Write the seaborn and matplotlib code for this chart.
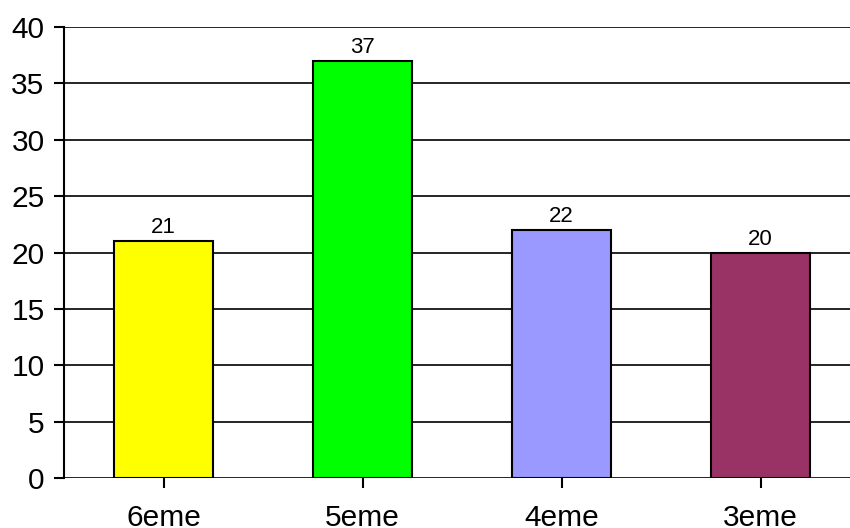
import matplotlib
matplotlib.use("Agg")
import matplotlib.pyplot as plt
import seaborn as sns
import pandas as pd

categories = ["6eme", "5eme", "4eme", "3eme"]
values = [21, 37, 22, 20]
colors = ["#FFFF00", "#00FF00", "#9999FF", "#993366"]
yticks = [0, 5, 10, 15, 20, 25, 30, 35, 40]

sns.set_theme(style="white")
plt.rcParams['font.family'] = ['Liberation Sans', 'DejaVu Sans']

df = pd.DataFrame({"cat": categories, "val": values})

fig = plt.figure(figsize=(8.5, 5.28), dpi=100)
ax = fig.add_axes([64/850, 50/528, 796/850, 451/528])
sns.barplot(data=df, x="cat", y="val", hue="cat", palette=colors, legend=False,
            width=0.5, edgecolor="black", linewidth=1.5, saturation=1, ax=ax, zorder=3)
ax.set_xlim(-0.5, 3.5)
ax.set_ylim(0, 40)
ax.set_yticks(yticks)
ax.set_xlabel("")
ax.set_ylabel("")
for y in yticks:
    ax.axhline(y, color="black", lw=1.2, zorder=1)
for s in ["top", "right", "bottom"]:
    ax.spines[s].set_visible(False)
ax.spines["left"].set_color("black")
ax.spines["left"].set_linewidth(1.5)
ax.tick_params(axis="both", which="major", direction="out", length=7, width=1.5,
               color="black", labelsize=21.5, labelcolor="black", bottom=True, left=True)
ax.tick_params(axis="y", pad=7)
ax.tick_params(axis="x", pad=12)
for c in ax.containers:
    ax.bar_label(c, labels=[f"{int(v)}" for v in c.datavalues], fontsize=16, padding=2, color="black")
fig.savefig("out.png", dpi=100)
